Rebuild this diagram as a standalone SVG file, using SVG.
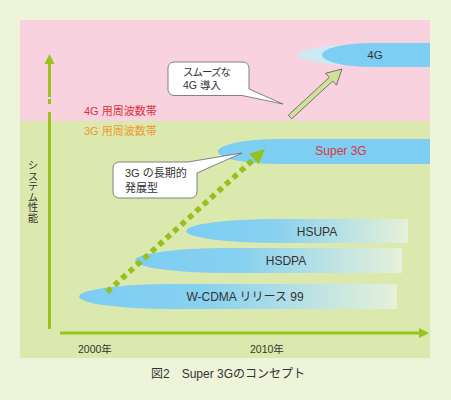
<svg xmlns="http://www.w3.org/2000/svg" width="451" height="400" viewBox="0 0 451 400">
<defs>
<style>
text{font-family:"Liberation Sans","Noto Sans CJK JP",sans-serif;fill:#333;}
.lbl{font-size:12px;text-anchor:middle;dominant-baseline:central;}
.band{font-size:11px;}
.call{font-size:10.5px;}
.axis{stroke:#99c31c;stroke-width:3;fill:none;}
.callout{fill:#fff;stroke:#666;stroke-width:0.8;}
</style>
<linearGradient id="barGrad" x1="0" y1="0" x2="1" y2="0">
<stop offset="0" stop-color="#7ccdf3"/>
<stop offset="0.4" stop-color="#88d1f0"/>
<stop offset="1" stop-color="#e6f1d9"/>
</linearGradient>
</defs>
<rect x="0" y="0" width="451" height="400" fill="#edf4da"/>
<g id="panel">
<rect x="20" y="20" width="410" height="101" fill="#f8d3df"/>
<rect x="20" y="121" width="410" height="237" fill="#dce9ae"/>
</g>
<g id="band-labels">
<text class="band" x="84" y="115" style="fill:#e0303c">4G 用周波数帯</text>
<text class="band" x="84" y="135" style="fill:#ee9a2e">3G 用周波数帯</text>
</g>
<g id="node-4g">
<path d="M430,43 L394,43 A96,12 0 0 0 394,67 L430,67 Z" fill="#cde9f4"/>
<path d="M430,43 L372,43 A50,12 0 0 0 372,67 L430,67 Z" fill="#7ecdf2"/>
<text class="lbl" x="375" y="55" style="font-size:11.5px">4G</text>
</g>
<g id="node-super3g">
<path d="M430,139 L278,139 A60,12.5 0 0 0 278,164 L430,164 Z" fill="#7ecdf2"/>
<text class="lbl" x="341" y="151" style="fill:#d8343f">Super 3G</text>
</g>
<g id="node-hsupa">
<path d="M408,219 L276,219 A90,12 0 0 0 276,243 L408,243 Z" fill="url(#barGrad)"/>
<text class="lbl" x="317" y="231.5">HSUPA</text>
</g>
<g id="node-hsdpa">
<path d="M402,248 L225,248 A90,12.5 0 0 0 225,273 L402,273 Z" fill="url(#barGrad)"/>
<text class="lbl" x="286" y="261">HSDPA</text>
</g>
<g id="node-wcdma">
<path d="M397,284 L169,284 A90,12.5 0 0 0 169,309 L397,309 Z" fill="url(#barGrad)"/>
<text class="lbl" x="245" y="297">W-CDMA リリース 99</text>
</g>
<g id="axes">
<path class="axis" d="M49.5,329 V112 M49.5,104 V99 M49.5,97 V62"/>
<polygon points="49.5,54 44.5,64 54.5,64" fill="#99c31c"/>
<path class="axis" d="M60,333 H420"/>
<polygon points="429,333 419,328 419,338" fill="#99c31c"/>
<text x="33" y="160" style="font-size:10.5px;writing-mode:vertical-rl;font-family:'Noto Sans CJK JP',sans-serif">システム性能</text>
<text x="78" y="353" style="font-size:10.5px">2000年</text>
<text x="250" y="353" style="font-size:10.5px">2010年</text>
</g>
<g id="callout-smooth">
<path class="callout" d="M174,62 H243 A6,6 0 0 1 249,68 V89 L283,104 L242,95.5 H174 A6,6 0 0 1 168,89.5 V68 A6,6 0 0 1 174,62 Z"/>
<text class="call" x="183" y="76" style="letter-spacing:-1px">スムーズな</text>
<text class="call" x="183" y="89">4G 導入</text>
</g>
<g id="callout-longterm">
<path class="callout" d="M119,162 H188 L242,153 L197,173 V192 A6,6 0 0 1 191,198 H119 A6,6 0 0 1 113,192 V168 A6,6 0 0 1 119,162 Z"/>
<text class="call" x="125" y="177" style="font-size:11px">3G の長期的</text>
<text class="call" x="125" y="191.5" style="font-size:11px">発展型</text>
</g>
<g id="connectors">
<line x1="107" y1="292" x2="254" y2="159" stroke="#96c11a" stroke-width="5.5" stroke-dasharray="5.5 4.5"/>
<polygon points="265,149 249.3,153.8 258.7,164.2" fill="#96c11a"/>
<polygon points="291.7,118.8 332.7,81 336.4,85.1 342,69 325.6,73.3 329.3,77.4 288.3,115.2" fill="#d0e29a" stroke="#555" stroke-width="0.8"/>
</g>
<g id="caption">
<text x="151" y="378" style="font-size:12px">図2　Super 3Gのコンセプト</text>
</g>
</svg>
